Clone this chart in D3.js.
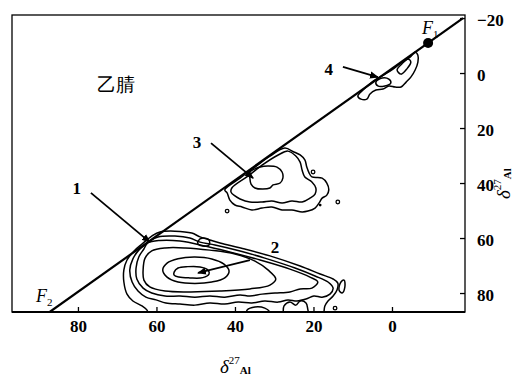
<!DOCTYPE html>
<html>
<head>
<meta charset="utf-8">
<script src="https://cdn.jsdelivr.net/npm/d3@7"></script>
<style>
  html, body { margin: 0; padding: 0; background: #fff; }
  svg { display: block; }
  text { font-family: "Liberation Serif", "Times New Roman", serif; fill: #000; }
</style>
</head>
<body>
<svg id="chart" width="524" height="378"></svg>
<script>
// Axis ticks (ppm)
const xTicks = [80, 60, 40, 20, 0];
const yTicks = [-20, 0, 20, 40, 60, 80];

// Diagonal F2 -> F1 (δ2, δ1)
const diagonalLine = [[87.2, 86.9], [-18.1, -20.0]];
const pointF1 = [-9.2, -10.9];

// Site 1/2 contours, outermost level first  [δ(F2), δ(F1)]
const site2A = [[62.2,60.4],[61.2,59.3],[59.1,57.8],[55.3,57.5],[51.0,58.2],[48.9,59.6],[46.4,60.7],[43.8,61.8],[37.5,64.0],[31.1,66.5],[23.4,70.2],[18.3,73.1],[15.0,74.9],[13.8,76.4],[14.0,78.9],[15.0,81.1],[16.3,82.9],[17.1,84.7],[17.8,89.1],[20.9,89.1],[21.4,86.2],[21.9,83.6],[23.4,82.9],[24.5,84.4],[26.0,83.3],[27.5,84.7],[28.0,89.1],[30.6,89.1],[31.1,86.9],[32.4,85.5],[34.9,85.1],[36.9,86.2],[37.5,89.1],[61.7,89.1],[62.4,86.2],[63.7,84.7],[66.0,82.9],[67.5,80.4],[68.3,76.0],[68.3,71.6],[67.5,68.0],[65.7,64.7],[63.7,62.2]];
const site2B = [[61.7,61.1],[59.6,59.6],[55.3,59.3],[51.5,60.0],[48.9,61.5],[45.1,62.5],[38.7,64.7],[32.4,67.3],[24.7,70.9],[19.6,73.8],[16.3,76.0],[15.0,78.2],[15.8,80.4],[17.8,81.5],[19.9,81.1],[21.9,82.2],[24.2,82.9],[26.5,82.5],[29.0,83.3],[32.4,82.9],[35.7,83.6],[39.2,83.3],[42.6,84.0],[46.4,83.6],[50.2,84.4],[54.0,84.0],[57.6,83.6],[60.1,82.5],[62.7,81.5],[64.7,79.3],[66.2,76.0],[66.8,71.6],[66.0,67.6],[64.5,64.4],[62.9,62.5]];
const site2C = [[62.2,61.8],[59.1,60.9],[54.0,61.1],[47.6,62.9],[41.3,65.1],[33.6,68.0],[26.0,71.3],[20.9,74.2],[18.9,76.0],[20.4,78.2],[23.4,78.5],[26.0,79.6],[29.8,80.0],[33.1,80.4],[36.2,81.1],[38.7,80.7],[42.6,81.5],[46.4,81.1],[50.2,81.5],[54.0,81.1],[57.8,81.1],[61.2,80.0],[63.4,78.2],[65.0,74.9],[65.2,70.9],[64.5,66.9],[63.2,64.0]];
const site2D = [[63.4,71.6],[62.9,67.3],[61.2,64.7],[57.8,63.6],[52.7,63.6],[46.4,64.4],[40.0,65.8],[34.9,68.4],[31.6,71.6],[29.6,74.9],[31.1,77.1],[36.2,78.5],[43.8,79.3],[51.5,79.6],[57.8,79.3],[61.7,77.8],[63.2,75.3]];
const site2E = [[58.4,71.6],[57.3,69.1],[54.5,67.5],[50.2,66.9],[45.9,67.6],[42.8,69.5],[41.5,72.0],[42.6,74.5],[45.9,76.0],[50.2,76.5],[54.5,76.0],[57.3,74.2]];
const site2F = [[55.5,72.4],[54.5,70.9],[52.0,70.4],[48.9,70.5],[46.9,71.6],[46.6,73.1],[48.2,74.4],[51.5,74.5],[54.3,74.2],[55.5,73.5]];
const site2Knot = [[49.4,61.1],[48.2,60.0],[46.6,60.7],[46.6,62.5],[48.2,62.9],[49.4,62.2]];
const site2Tail = [[13.5,78.9],[13.0,76.0],[12.2,75.3],[12.0,77.8],[12.7,80.0]];

// Site 3 contours
const site3Outer = [[42.6,42.5],[38.7,38.2],[34.9,34.2],[31.1,30.2],[27.3,27.3],[25.0,28.7],[23.4,29.8],[22.2,31.6],[21.7,34.2],[21.1,36.4],[20.4,37.8],[17.8,38.2],[16.6,40.0],[16.1,42.5],[16.6,44.4],[17.8,45.5],[18.6,47.3],[19.6,49.1],[21.4,50.2],[22.9,50.5],[25.5,49.8],[28.0,49.8],[30.6,48.7],[33.1,49.1],[35.7,49.8],[38.2,48.7],[40.0,48.0],[41.3,46.2],[42.0,43.6]];
const site3Mid = [[40.8,41.8],[36.7,37.5],[33.1,33.5],[29.0,29.8],[26.5,28.4],[24.5,30.2],[23.4,32.4],[22.9,35.3],[22.2,37.8],[20.4,39.6],[19.4,41.8],[19.6,44.0],[20.9,45.5],[22.9,46.9],[25.5,46.5],[28.0,47.3],[30.6,46.5],[33.1,46.9],[36.2,46.9],[38.7,45.8],[40.0,44.7],[41.0,43.3]];
const site3Inner = [[36.2,36.0],[33.6,34.2],[31.6,33.8],[29.3,34.2],[28.0,36.0],[27.8,38.2],[28.5,40.0],[30.3,40.7],[31.1,41.8],[32.9,42.2],[34.9,41.8],[35.9,40.4],[36.2,38.2]];

// Site 4 contours
const site4Outer = [[8.7,8.4],[7.4,6.2],[5.1,3.3],[3.1,1.5],[0.5,-0.7],[-2.0,-3.3],[-4.6,-5.8],[-5.9,-7.6],[-6.6,-6.5],[-6.6,-4.0],[-5.9,-1.1],[-4.8,1.5],[-3.6,3.3],[-2.3,5.1],[-0.8,5.1],[0.8,4.7],[2.3,5.8],[4.1,6.2],[5.6,7.6],[6.4,9.5],[7.9,9.5]];
const site4LoopA = [[4.1,3.3],[2.5,1.8],[0.8,2.2],[0.3,3.6],[1.8,4.7],[3.6,4.7]];
const site4LoopB = [[-1.3,-1.1],[-2.5,-3.3],[-4.1,-5.1],[-4.8,-4.0],[-3.8,-1.5],[-2.3,0.4]];

// Isolated small contour islands
const islands = [[20.1,36.0],[13.8,46.9],[42.0,50.2],[14.5,85.5]];
const specks = [[18.3,48.0]];

// Peak annotations: label, label anchor, leader line
const peakNames = ["1", "2", "3", "4"];
const peakLabelAt = [[80.3,41.8],[29.8,63.3],[49.7,25.1],[16.1,-1.5]];
const peakLeaders = [
  [[76.7,43.6],[61.7,61.5]],
  [[36.2,68.0],[49.4,72.7]],
  [[46.1,25.5],[35.4,38.2]],
  [[12.5,-2.2],[3.6,1.5]]
];

const solventLabel = "乙腈";

// ---------- drawing ----------
const svg = d3.select("#chart");
const L = 12, T = 15, R = 465, B = 312;

const x = d3.scaleLinear().domain([96.8, -18.6]).range([L, R]);
const y = d3.scaleLinear().domain([-21.1, 86.9]).range([T, B]);

const defs = svg.append("defs");
defs.append("clipPath").attr("id", "plotClip")
  .append("rect").attr("x", L).attr("y", T).attr("width", R - L).attr("height", B - T);
defs.append("marker").attr("id", "tip")
  .attr("viewBox", "0 -4 8 8").attr("refX", 7).attr("refY", 0)
  .attr("markerWidth", 5).attr("markerHeight", 5).attr("orient", "auto")
  .append("path").attr("d", "M0,-3.2L8,0L0,3.2Z").attr("fill", "#000");

const plot = svg.append("g").attr("clip-path", "url(#plotClip)");

const closed = d3.line().x(d => x(d[0])).y(d => y(d[1]))
  .curve(d3.curveCatmullRomClosed.alpha(0.5));
const straight = d3.line().x(d => x(d[0])).y(d => y(d[1]));

const contourSets = [site2A, site2B, site2C, site2D, site2E, site2F, site2Knot, site2Tail,
                     site3Outer, site3Mid, site3Inner,
                     site4Outer, site4LoopA, site4LoopB];

plot.selectAll("path.contour").data(contourSets).join("path")
  .attr("class", "contour")
  .attr("d", closed)
  .attr("fill", "none").attr("stroke", "#000")
  .attr("stroke-width", 1.5).attr("stroke-linejoin", "round");

plot.selectAll("circle.island").data(islands).join("circle")
  .attr("class", "island")
  .attr("cx", d => x(d[0])).attr("cy", d => y(d[1])).attr("r", 1.8)
  .attr("fill", "none").attr("stroke", "#000").attr("stroke-width", 1.3);

plot.selectAll("circle.speck").data(specks).join("circle")
  .attr("class", "speck")
  .attr("cx", d => x(d[0])).attr("cy", d => y(d[1])).attr("r", 1.4)
  .attr("fill", "#000");

// Diagonal
plot.append("path").datum(diagonalLine).attr("d", straight)
  .attr("stroke", "#000").attr("stroke-width", 2.2).attr("fill", "none");

// F1 peak dot
plot.append("circle").attr("cx", x(pointF1[0])).attr("cy", y(pointF1[1]))
  .attr("r", 5).attr("fill", "#000");

// Leaders
plot.selectAll("path.leader").data(peakLeaders).join("path")
  .attr("class", "leader").attr("d", straight)
  .attr("stroke", "#000").attr("stroke-width", 1.8).attr("fill", "none")
  .attr("marker-end", "url(#tip)");

// Peak labels
svg.selectAll("text.peak").data(peakNames).join("text")
  .attr("class", "peak")
  .attr("x", (d, i) => x(peakLabelAt[i][0]))
  .attr("y", (d, i) => y(peakLabelAt[i][1]))
  .attr("dy", "0.35em").attr("text-anchor", "middle")
  .attr("font-size", 17).attr("font-weight", "bold")
  .text(d => d);

// Frame
svg.append("rect").attr("x", L).attr("y", T).attr("width", R - L).attr("height", B - T)
  .attr("fill", "none").attr("stroke", "#000").attr("stroke-width", 1.3);
svg.append("line").attr("x1", L).attr("x2", R).attr("y1", B).attr("y2", B)
  .attr("stroke", "#000").attr("stroke-width", 2);

// Bottom axis (ticks point inward)
const xAxis = svg.append("g").attr("transform", `translate(0,${B})`)
  .call(d3.axisBottom(x).tickValues(xTicks).tickSize(-5).tickSizeOuter(0).tickPadding(8));
xAxis.select(".domain").remove();
xAxis.selectAll(".tick line").attr("stroke", "#000").attr("stroke-width", 1.3);
xAxis.selectAll(".tick text").attr("font-size", 17).attr("font-weight", "bold")
  .attr("font-family", "Liberation Serif, serif").attr("fill", "#000");

// Right axis (ticks point inward)
const yAxis = svg.append("g").attr("transform", `translate(${R},0)`)
  .call(d3.axisRight(y).tickValues(yTicks).tickSize(-5).tickSizeOuter(0).tickPadding(12));
yAxis.select(".domain").remove();
yAxis.selectAll(".tick line").attr("stroke", "#000").attr("stroke-width", 1.3);
yAxis.selectAll(".tick text").attr("font-size", 17).attr("font-weight", "bold").attr("dy", "0.42em")
  .attr("font-family", "Liberation Serif, serif").attr("fill", "#000");

// Axis titles: δ^27 Al
function axisTitle(g) {
  g.append("tspan").attr("font-style", "italic").attr("font-size", 19).text("δ");
  g.append("tspan").attr("font-size", 11).attr("dy", -9).text("27");
  g.append("tspan").attr("font-size", 11).attr("font-weight", "bold").attr("dy", 10).text("Al");
}
axisTitle(svg.append("text").attr("x", 220).attr("y", 373));
axisTitle(svg.append("text").attr("transform", "translate(510,199) rotate(-90)"));

// F1 / F2 labels
function fLabel(px, py, sub) {
  const t = svg.append("text").attr("x", px).attr("y", py);
  t.append("tspan").attr("font-style", "italic").attr("font-size", 18).text("F");
  t.append("tspan").attr("font-size", 11).attr("dy", 4).text(sub);
}
fLabel(422, 34, "1");
fLabel(36, 302, "2");

// Solvent label
svg.append("text").attr("x", 97).attr("y", 91)
  .attr("font-family", "Noto Sans CJK SC, sans-serif")
  .attr("font-size", 19).text(solventLabel);
</script>
</body>
</html>
